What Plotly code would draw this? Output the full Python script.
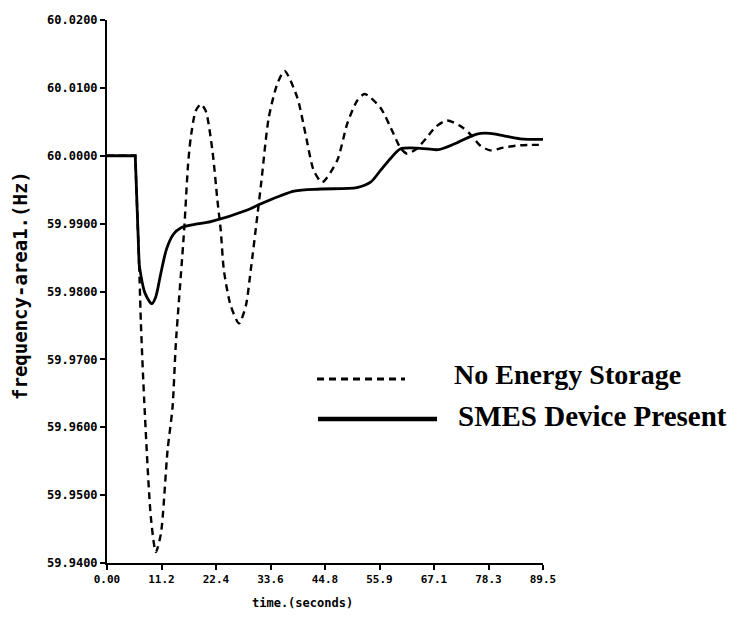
import plotly.graph_objects as go

# ---- data ----
t_no_storage = [0.0, 5.8, 6.6, 6.96, 7.64, 9.01, 10.03, 11.06, 12.43, 13.45, 14.13, 15.83, 16.65,
                17.2, 18.2, 19.25, 20.27, 21.65, 22.67, 23.35, 24.0, 25.4, 27.1, 28.5, 29.5, 30.9,
                31.7, 33.2, 34.96, 36.45, 39.05, 40.75, 42.45, 44.17, 47.25, 49.3, 51.34, 52.9,
                56.1, 58.84, 60.2, 61.58, 63.5, 65.68, 67.38, 69.77, 72.5, 74.55, 76.6, 78.64,
                81.4, 84.1, 86.8, 89.5]
f_no_storage = [60.0, 60.0, 59.984, 59.9753, 59.9639, 59.9467, 59.9416, 59.9443, 59.9566, 59.9629,
                59.9723, 59.9890, 59.9988, 60.0027, 60.0066, 60.0076, 60.0066, 60.0007, 59.9934,
                59.9890, 59.9831, 59.9779, 59.9753, 59.9779, 59.9831, 59.9914, 59.9963, 60.0056,
                60.0106, 60.0125, 60.0086, 60.0032, 59.9978, 59.9961, 59.9993, 60.0047, 60.0081,
                60.0091, 60.0071, 60.0032, 60.0012, 60.0003, 60.0010, 60.0027, 60.0042, 60.0052,
                60.0044, 60.0032, 60.0015, 60.0008, 60.0012, 60.0015, 60.0016, 60.0016]

t_smes = [0.0, 5.8, 6.6, 7.78, 9.2, 10.0, 11.0, 12.2, 13.6, 15.2, 18.0, 21.3, 28.8, 31.5, 38.4,
          43.8, 51.3, 54.1, 56.1, 58.2, 60.2, 64.3, 68.0, 71.5, 75.9, 78.6, 81.7, 84.8, 89.5]
f_smes = [60.0, 60.0, 59.984, 59.9798, 59.9782, 59.9792, 59.9825, 59.9862, 59.9884, 59.9894,
          59.9899, 59.9903, 59.9920, 59.9929, 59.9948, 59.9951, 59.9953, 59.9961, 59.9978,
          59.9996, 60.0010, 60.0011, 60.0009, 60.0018, 60.0032, 60.0033, 60.0029, 60.0025,
          60.0024]

x_tick_vals = [0.0, 11.1875, 22.375, 33.5625, 44.75, 55.9375, 67.125, 78.3125, 89.5]
x_tick_text = ["0.00", "11.2", "22.4", "33.6", "44.8", "55.9", "67.1", "78.3", "89.5"]
y_tick_vals = [59.94, 59.95, 59.96, 59.97, 59.98, 59.99, 60.00, 60.01, 60.02]
y_tick_text = ["59.9400", "59.9500", "59.9600", "59.9700", "59.9800", "59.9900",
               "60.0000", "60.0100", "60.0200"]

series_names = ["No Energy Storage", "SMES Device Present"]

# ---- figure ----
fig = go.Figure()
dash_style = dict(color="black", width=2.4, dash="7px,5px")
solid_style = dict(color="black", width=2.8)

# pre-disturbance flat part + sharp step (straight segments), then smooth response
fig.add_trace(go.Scatter(x=t_no_storage[:3], y=f_no_storage[:3], mode="lines",
                         line=dict(**dash_style, shape="linear")))
fig.add_trace(go.Scatter(x=t_no_storage[2:], y=f_no_storage[2:], mode="lines",
                         name=series_names[0],
                         line=dict(**dash_style, shape="spline", smoothing=0.7)))
fig.add_trace(go.Scatter(x=t_smes[:3], y=f_smes[:3], mode="lines",
                         line=dict(**solid_style, shape="linear")))
fig.add_trace(go.Scatter(x=t_smes[2:], y=f_smes[2:], mode="lines", name=series_names[1],
                         line=dict(**solid_style, shape="spline", smoothing=0.8)))

fig.update_layout(
    width=731, height=619,
    margin=dict(l=107, r=188, t=20, b=56),
    paper_bgcolor="white", plot_bgcolor="white",
    showlegend=False,
    xaxis=dict(range=[0, 89.5], tickvals=x_tick_vals, ticktext=x_tick_text,
               showgrid=False, zeroline=False, showline=True, linecolor="black", linewidth=2,
               ticks="outside", ticklen=5, tickwidth=2, tickcolor="black",
               tickfont=dict(family="DejaVu Sans Mono", size=11, color="black", weight="bold")),
    yaxis=dict(range=[59.94, 60.02], tickvals=y_tick_vals, ticktext=y_tick_text,
               showgrid=False, zeroline=False, showline=True, linecolor="black", linewidth=2,
               ticks="outside", ticklen=5, tickwidth=2, tickcolor="black",
               tickfont=dict(family="DejaVu Sans Mono", size=12, color="black", weight="bold")),
)

# axis titles
fig.add_annotation(text="time.(seconds)", xref="paper", yref="paper",
                   x=(302 - 107) / 436, y=(563 - 603) / 543, showarrow=False,
                   xanchor="center", yanchor="middle",
                   font=dict(family="DejaVu Sans Mono", size=12, color="black", weight="bold"))
fig.add_annotation(text="frequency-area1.(Hz)", xref="paper", yref="paper",
                   x=(20 - 107) / 436, y=(563 - 286) / 543, showarrow=False, textangle=-90,
                   xanchor="center", yanchor="middle",
                   font=dict(family="DejaVu Sans Mono", size=19, color="black", weight="bold"))

# legend (samples + labels)
fig.add_shape(type="line", xref="paper", yref="paper",
              x0=(317 - 107) / 436, x1=(405 - 107) / 436,
              y0=(563 - 379) / 543, y1=(563 - 379) / 543,
              line=dict(color="black", width=3, dash="7px,5px"))
fig.add_shape(type="line", xref="paper", yref="paper",
              x0=(318 - 107) / 436, x1=(437 - 107) / 436,
              y0=(563 - 419) / 543, y1=(563 - 419) / 543,
              line=dict(color="black", width=4.5))
fig.add_annotation(text=series_names[0], xref="paper", yref="paper",
                   x=(452 - 107) / 436, y=(563 - 374) / 543, showarrow=False,
                   xanchor="left", yanchor="middle",
                   font=dict(family="Liberation Serif", size=28, color="black", weight="bold"))
fig.add_annotation(text=series_names[1], xref="paper", yref="paper",
                   x=(456 - 107) / 436, y=(563 - 416) / 543, showarrow=False,
                   xanchor="left", yanchor="middle",
                   font=dict(family="Liberation Serif", size=29, color="black", weight="bold"))

fig.write_html("out.html")
